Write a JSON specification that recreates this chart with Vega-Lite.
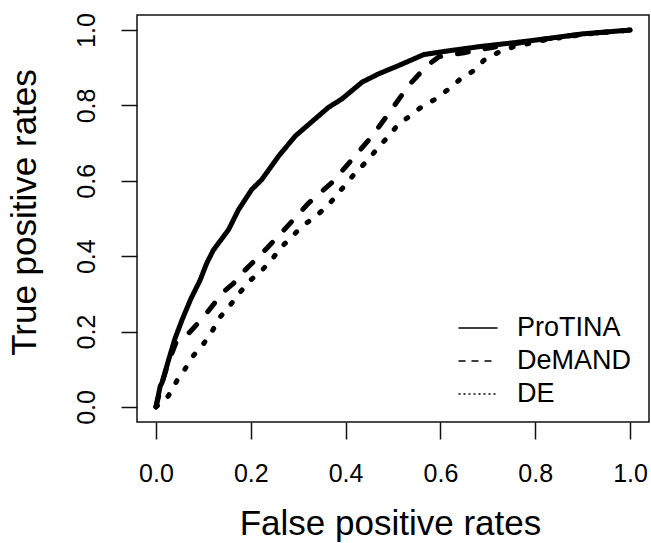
{
  "$schema": "https://vega.github.io/schema/vega-lite/v6.json",
  "autosize": {"type": "none"},
  "padding": {"left": 137, "top": 15, "right": 2, "bottom": 121},
  "width": 512,
  "height": 407,
  "background": "white",
  "config": {
    "view": {"stroke": "#111", "strokeWidth": 1.5},
    "font": "Liberation Sans"
  },
  "data": {
    "values": [
      {"method": "ProTINA", "i": 0, "fpr": 0.0, "tpr": 0.0},
      {"method": "ProTINA", "i": 1, "fpr": 0.001, "tpr": 0.007},
      {"method": "ProTINA", "i": 2, "fpr": 0.009, "tpr": 0.055},
      {"method": "ProTINA", "i": 3, "fpr": 0.013, "tpr": 0.065},
      {"method": "ProTINA", "i": 4, "fpr": 0.026, "tpr": 0.122},
      {"method": "ProTINA", "i": 5, "fpr": 0.04, "tpr": 0.181},
      {"method": "ProTINA", "i": 6, "fpr": 0.056, "tpr": 0.234},
      {"method": "ProTINA", "i": 7, "fpr": 0.074, "tpr": 0.288},
      {"method": "ProTINA", "i": 8, "fpr": 0.093, "tpr": 0.336},
      {"method": "ProTINA", "i": 9, "fpr": 0.107, "tpr": 0.381},
      {"method": "ProTINA", "i": 10, "fpr": 0.121, "tpr": 0.416},
      {"method": "ProTINA", "i": 11, "fpr": 0.153, "tpr": 0.47},
      {"method": "ProTINA", "i": 12, "fpr": 0.174, "tpr": 0.523},
      {"method": "ProTINA", "i": 13, "fpr": 0.202, "tpr": 0.577},
      {"method": "ProTINA", "i": 14, "fpr": 0.223, "tpr": 0.603},
      {"method": "ProTINA", "i": 15, "fpr": 0.259, "tpr": 0.666},
      {"method": "ProTINA", "i": 16, "fpr": 0.294, "tpr": 0.719},
      {"method": "ProTINA", "i": 17, "fpr": 0.329, "tpr": 0.757},
      {"method": "ProTINA", "i": 18, "fpr": 0.364, "tpr": 0.795},
      {"method": "ProTINA", "i": 19, "fpr": 0.392, "tpr": 0.817},
      {"method": "ProTINA", "i": 20, "fpr": 0.435, "tpr": 0.862},
      {"method": "ProTINA", "i": 21, "fpr": 0.47, "tpr": 0.884},
      {"method": "ProTINA", "i": 22, "fpr": 0.512, "tpr": 0.906},
      {"method": "ProTINA", "i": 23, "fpr": 0.565, "tpr": 0.935},
      {"method": "ProTINA", "i": 24, "fpr": 0.618, "tpr": 0.945},
      {"method": "ProTINA", "i": 25, "fpr": 0.688, "tpr": 0.957},
      {"method": "ProTINA", "i": 26, "fpr": 0.759, "tpr": 0.967},
      {"method": "ProTINA", "i": 27, "fpr": 0.829, "tpr": 0.978},
      {"method": "ProTINA", "i": 28, "fpr": 0.9, "tpr": 0.99},
      {"method": "ProTINA", "i": 29, "fpr": 1.0, "tpr": 1.0},
      {"method": "DeMAND", "i": 0, "fpr": 0.0, "tpr": 0.0},
      {"method": "DeMAND", "i": 1, "fpr": 0.012, "tpr": 0.06},
      {"method": "DeMAND", "i": 2, "fpr": 0.026, "tpr": 0.118},
      {"method": "DeMAND", "i": 3, "fpr": 0.042, "tpr": 0.17},
      {"method": "DeMAND", "i": 4, "fpr": 0.065, "tpr": 0.19},
      {"method": "DeMAND", "i": 5, "fpr": 0.1, "tpr": 0.238},
      {"method": "DeMAND", "i": 6, "fpr": 0.142, "tpr": 0.305},
      {"method": "DeMAND", "i": 7, "fpr": 0.163, "tpr": 0.327},
      {"method": "DeMAND", "i": 8, "fpr": 0.188, "tpr": 0.363},
      {"method": "DeMAND", "i": 9, "fpr": 0.234, "tpr": 0.421},
      {"method": "DeMAND", "i": 10, "fpr": 0.28, "tpr": 0.483},
      {"method": "DeMAND", "i": 11, "fpr": 0.322, "tpr": 0.541},
      {"method": "DeMAND", "i": 12, "fpr": 0.371, "tpr": 0.595},
      {"method": "DeMAND", "i": 13, "fpr": 0.414, "tpr": 0.657},
      {"method": "DeMAND", "i": 14, "fpr": 0.456, "tpr": 0.719},
      {"method": "DeMAND", "i": 15, "fpr": 0.498, "tpr": 0.791},
      {"method": "DeMAND", "i": 16, "fpr": 0.533, "tpr": 0.853},
      {"method": "DeMAND", "i": 17, "fpr": 0.572, "tpr": 0.906},
      {"method": "DeMAND", "i": 18, "fpr": 0.597, "tpr": 0.929},
      {"method": "DeMAND", "i": 19, "fpr": 0.65, "tpr": 0.94},
      {"method": "DeMAND", "i": 20, "fpr": 0.7, "tpr": 0.952},
      {"method": "DeMAND", "i": 21, "fpr": 0.8, "tpr": 0.973},
      {"method": "DeMAND", "i": 22, "fpr": 0.9, "tpr": 0.989},
      {"method": "DeMAND", "i": 23, "fpr": 1.0, "tpr": 1.0},
      {"method": "DE", "i": 0, "fpr": 0.0, "tpr": 0.0},
      {"method": "DE", "i": 1, "fpr": 0.026, "tpr": 0.029},
      {"method": "DE", "i": 2, "fpr": 0.044, "tpr": 0.069},
      {"method": "DE", "i": 3, "fpr": 0.061, "tpr": 0.1},
      {"method": "DE", "i": 4, "fpr": 0.079, "tpr": 0.136},
      {"method": "DE", "i": 5, "fpr": 0.1, "tpr": 0.167},
      {"method": "DE", "i": 6, "fpr": 0.119, "tpr": 0.202},
      {"method": "DE", "i": 7, "fpr": 0.135, "tpr": 0.238},
      {"method": "DE", "i": 8, "fpr": 0.156, "tpr": 0.269},
      {"method": "DE", "i": 9, "fpr": 0.178, "tpr": 0.305},
      {"method": "DE", "i": 10, "fpr": 0.199, "tpr": 0.336},
      {"method": "DE", "i": 11, "fpr": 0.22, "tpr": 0.358},
      {"method": "DE", "i": 12, "fpr": 0.244, "tpr": 0.39},
      {"method": "DE", "i": 13, "fpr": 0.262, "tpr": 0.421},
      {"method": "DE", "i": 14, "fpr": 0.287, "tpr": 0.452},
      {"method": "DE", "i": 15, "fpr": 0.308, "tpr": 0.479},
      {"method": "DE", "i": 16, "fpr": 0.336, "tpr": 0.505},
      {"method": "DE", "i": 17, "fpr": 0.361, "tpr": 0.532},
      {"method": "DE", "i": 18, "fpr": 0.382, "tpr": 0.563},
      {"method": "DE", "i": 19, "fpr": 0.403, "tpr": 0.595},
      {"method": "DE", "i": 20, "fpr": 0.424, "tpr": 0.626},
      {"method": "DE", "i": 21, "fpr": 0.445, "tpr": 0.652},
      {"method": "DE", "i": 22, "fpr": 0.466, "tpr": 0.684},
      {"method": "DE", "i": 23, "fpr": 0.491, "tpr": 0.719},
      {"method": "DE", "i": 24, "fpr": 0.512, "tpr": 0.751},
      {"method": "DE", "i": 25, "fpr": 0.537, "tpr": 0.773},
      {"method": "DE", "i": 26, "fpr": 0.562, "tpr": 0.798},
      {"method": "DE", "i": 27, "fpr": 0.59, "tpr": 0.817},
      {"method": "DE", "i": 28, "fpr": 0.618, "tpr": 0.844},
      {"method": "DE", "i": 29, "fpr": 0.643, "tpr": 0.871},
      {"method": "DE", "i": 30, "fpr": 0.671, "tpr": 0.893},
      {"method": "DE", "i": 31, "fpr": 0.692, "tpr": 0.92},
      {"method": "DE", "i": 32, "fpr": 0.724, "tpr": 0.942},
      {"method": "DE", "i": 33, "fpr": 0.755, "tpr": 0.956},
      {"method": "DE", "i": 34, "fpr": 0.829, "tpr": 0.976},
      {"method": "DE", "i": 35, "fpr": 0.914, "tpr": 0.99},
      {"method": "DE", "i": 36, "fpr": 1.0, "tpr": 1.0}
    ]
  },
  "encoding": {
    "x": {
      "field": "fpr", "type": "quantitative",
      "scale": {"domain": [-0.04, 1.04], "nice": false, "zero": false},
      "axis": {
        "title": "False positive rates",
        "values": [0, 0.2, 0.4, 0.6, 0.8, 1.0],
        "format": ".1f",
        "grid": false, "domain": false,
        "tickSize": 17, "tickWidth": 1.5, "tickColor": "#111",
        "labelFontSize": 25, "labelColor": "#000", "labelPadding": 22,
        "labelFlush": false, "labelBaseline": "top",
        "titleFontSize": 35, "titleFontWeight": "normal", "titleColor": "#000",
        "titleBaseline": "alphabetic", "titleY": 112, "titleX": 253
      }
    },
    "y": {
      "field": "tpr", "type": "quantitative",
      "scale": {"domain": [-0.04, 1.04], "nice": false, "zero": false},
      "axis": {
        "title": "True positive rates",
        "values": [0, 0.2, 0.4, 0.6, 0.8, 1.0],
        "format": ".1f",
        "grid": false, "domain": false,
        "tickSize": 16, "tickWidth": 1.5, "tickColor": "#111",
        "labelFontSize": 25, "labelColor": "#000", "labelPadding": 22,
        "labelAngle": -90, "labelAlign": "center", "labelBaseline": "bottom",
        "labelFlush": false,
        "titleFontSize": 35, "titleFontWeight": "normal", "titleColor": "#000",
        "titleAngle": -90, "titleAlign": "center", "titleBaseline": "bottom",
        "titleX": -95, "titleY": 197
      }
    },
    "order": {"field": "i", "type": "quantitative"}
  },
  "layer": [
    {
      "mark": {"type": "line", "color": "#000", "strokeWidth": 5, "strokeCap": "round", "strokeJoin": "round"},
      "encoding": {
        "strokeDash": {
          "field": "method", "type": "nominal",
          "scale": {"domain": ["ProTINA", "DeMAND", "DE"], "range": [[1, 0], [11, 17], [2, 14]]},
          "legend": null
        }
      }
    },
    {
      "transform": [{"filter": "datum.i < 0"}],
      "mark": {"type": "line", "color": "#000", "strokeWidth": 1.5, "strokeCap": "butt"},
      "encoding": {
        "strokeDash": {
          "field": "method", "type": "nominal",
          "scale": {"domain": ["ProTINA", "DeMAND", "DE"], "range": [[1, 0], [7, 6], [2, 3]]},
          "legend": {
            "title": null,
            "orient": "none",
            "legendX": 325,
            "legendY": 297,
            "padding": 0,
            "rowPadding": 4,
            "symbolType": "M-1.3,0H1.3",
            "symbolSize": 900,
            "symbolStrokeWidth": 1.5,
            "symbolStrokeColor": "#000",
            "labelFontSize": 27,
            "labelColor": "#000",
            "labelOffset": 23
          }
        }
      }
    }
  ],
  "resolve": {"scale": {"strokeDash": "independent"}}
}
